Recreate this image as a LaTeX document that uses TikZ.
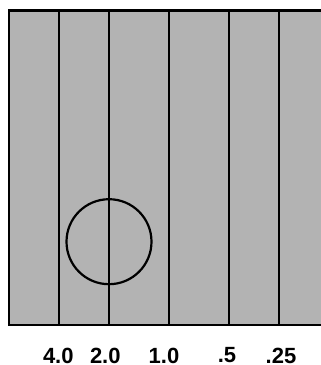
\documentclass[tikz,border=0pt]{standalone}
\usepackage{fontspec}
\setmainfont{Liberation Sans}
\definecolor{panelgray}{RGB}{179,179,179}
\begin{document}
\begin{tikzpicture}[x=1pt,y=-1pt,
  rule/.style={line width=2.2pt, black},
  lab/.style={anchor=center, inner sep=0pt, font=\fontsize{22}{24}\selectfont\bfseries}]
\useasboundingbox (0,0) rectangle (321,365);
\begin{scope}
\clip (0,0) rectangle (321,365);
\draw[rule, fill=panelgray] (9.3,10.5) rectangle (335,325);
\end{scope}
\foreach \n/\x in {a/58.7,b/109,c/169.3,d/229,e/279.3}{
  \coordinate (t\n) at (\x,12);
  \coordinate (b\n) at (\x,325);
  \draw[rule] (t\n) -- (b\n);
}
\node[draw, line width=2.2pt, circle, minimum size=85pt, inner sep=0pt] (circ) at (109,241.7) {};
\node[lab] (l1) at (58.3,355.5) {4.0};
\node[lab] (l2) at (105.3,355.5) {2.0};
\node[lab] (l3) at (164,355.5) {1.0};
\node[lab] (l4) at (227,355.5) {.5};
\node[lab] (l5) at (281,355.5) {.25};
\end{tikzpicture}
\end{document}
